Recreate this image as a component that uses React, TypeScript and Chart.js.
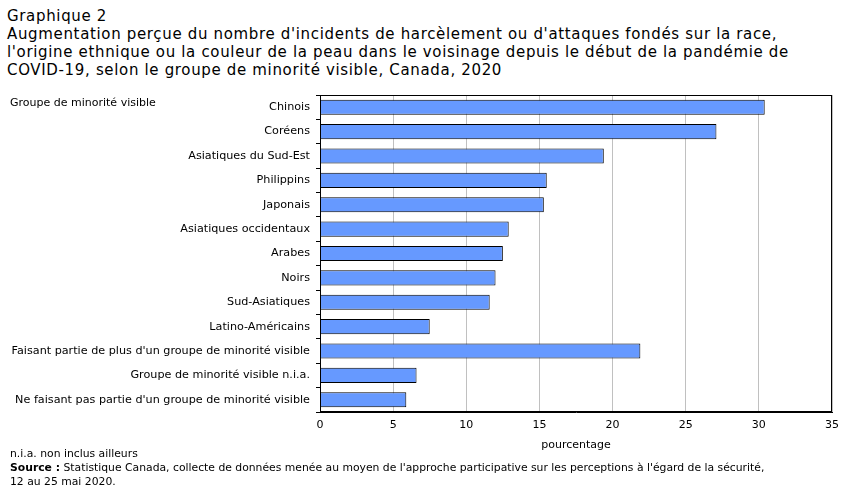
import React, { useEffect, useRef } from "react";
import { Chart, registerables } from "chart.js";

Chart.register(...registerables);

const categories = [
  "Chinois",
  "Coréens",
  "Asiatiques du Sud-Est",
  "Philippins",
  "Japonais",
  "Asiatiques occidentaux",
  "Arabes",
  "Noirs",
  "Sud-Asiatiques",
  "Latino-Américains",
  "Faisant partie de plus d'un groupe de minorité visible",
  "Groupe de minorité visible n.i.a.",
  "Ne faisant pas partie d'un groupe de minorité visible",
];

const values = [30.4, 27.1, 19.4, 15.5, 15.3, 12.9, 12.5, 12.0, 11.6, 7.5, 21.9, 6.6, 5.9];

const xTicks = [0, 5, 10, 15, 20, 25, 30, 35];

const titleLines = [
  "Graphique 2",
  "Augmentation perçue du nombre d'incidents de harcèlement ou d'attaques fondés sur la race,",
  "l'origine ethnique ou la couleur de la peau dans le voisinage depuis le début de la pandémie de",
  "COVID-19, selon le groupe de minorité visible, Canada, 2020",
];

const yAxisTitle = "Groupe de minorité visible";
const xAxisTitle = "pourcentage";
const note = "n.i.a. non inclus ailleurs";
const sourceLabel = "Source :";
const sourceText =
  " Statistique Canada, collecte de données menée au moyen de l'approche participative sur les perceptions à l'égard de la sécurité,";
const sourceText2 = "12 au 25 mai 2020.";

const FONT = "'DejaVu Sans', Verdana, sans-serif";

export default function App() {
  const canvasRef = useRef<HTMLCanvasElement | null>(null);

  useEffect(() => {
    document.body.style.margin = "0";
    const canvas = canvasRef.current;
    if (!canvas) return;
    const chart = new Chart(canvas, {
      type: "bar",
      data: {
        labels: categories,
        datasets: [
          {
            data: values,
            backgroundColor: "#6699FF",
            borderColor: "#000000",
            borderWidth: 1,
            barPercentage: 0.62,
            categoryPercentage: 1,
          },
        ],
      },
      options: {
        indexAxis: "y",
        responsive: false,
        animation: false,
        maintainAspectRatio: false,
        layout: { padding: { top: 95, right: 19, left: 0, bottom: 0 } },
        plugins: {
          legend: { display: false },
          tooltip: { enabled: false },
        },
        scales: {
          x: {
            min: 0,
            max: 35,
            afterBuildTicks: (scale: any) => {
              scale.ticks = xTicks.map((v) => ({ value: v }));
            },
            afterFit: (scale: any) => {
              scale.height = 40;
            },
            ticks: {
              color: "#000",
              font: { family: FONT, size: 11 },
              padding: 7,
              maxRotation: 0,
            },
            grid: {
              color: "#C0C0C0",
              lineWidth: 1,
              drawTicks: false,
            },
            border: { display: true, color: "#000", width: 1 },
            title: {
              display: true,
              text: xAxisTitle,
              color: "#000",
              font: { family: FONT, size: 11 },
              padding: { top: 2, bottom: 0 },
            },
          },
          y: {
            afterFit: (scale: any) => {
              scale.width = 320;
            },
            ticks: {
              color: "#000",
              font: { family: FONT, size: 11.2 },
              padding: 6,
              autoSkip: false,
            },
            grid: {
              offset: true,
              drawOnChartArea: false,
              drawTicks: true,
              tickLength: 4,
              color: "#000",
            },
            border: { display: true, color: "#000", width: 1 },
          },
        },
      },
      plugins: [
        {
          id: "frame",
          afterDraw(c: any) {
            const { ctx, chartArea } = c;
            ctx.save();
            ctx.strokeStyle = "#000";
            ctx.lineWidth = 1;
            ctx.strokeRect(
              Math.round(chartArea.left) + 0.5,
              Math.round(chartArea.top) + 0.5,
              Math.round(chartArea.right - chartArea.left) - 1,
              Math.round(chartArea.bottom - chartArea.top) - 1
            );
            ctx.restore();
          },
        },
      ],
    } as any);
    return () => chart.destroy();
  }, []);

  return (
    <div style={{ position: "relative", width: 851, height: 493, background: "#fff", fontFamily: FONT, color: "#000" }}>
      <div style={{ position: "absolute", left: 7, top: 7, fontSize: 15, letterSpacing: "0.66px", lineHeight: "18px", whiteSpace: "nowrap" }}>
        {titleLines.map((l, i) => (
          <div key={i}>{l}</div>
        ))}
      </div>
      <canvas ref={canvasRef} width={851} height={452} style={{ position: "absolute", left: 0, top: 0 }} />
      <div style={{ position: "absolute", left: 10, top: 96, fontSize: 11, whiteSpace: "nowrap" }}>{yAxisTitle}</div>
      <div style={{ position: "absolute", left: 10, top: 447, fontSize: 10.8, lineHeight: "14px", whiteSpace: "nowrap" }}>
        <div>{note}</div>
        <div>
          <b>{sourceLabel}</b>
          {sourceText}
        </div>
        <div>{sourceText2}</div>
      </div>
    </div>
  );
}
